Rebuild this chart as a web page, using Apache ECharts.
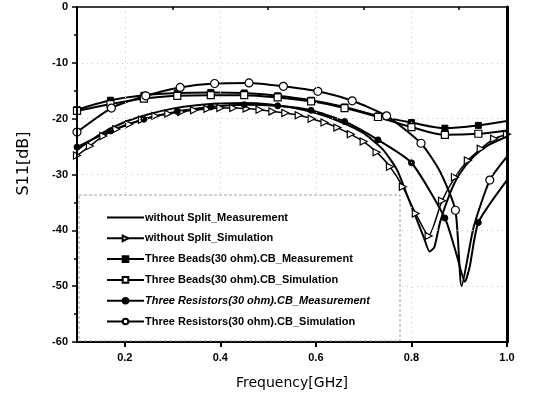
<!DOCTYPE html>
<html>
<head>
<meta charset="utf-8">
<script src="https://cdn.jsdelivr.net/npm/echarts@6/dist/echarts.min.js"></script>
<style>
  html, body { margin: 0; padding: 0; background: #fff; }
  #chart { width: 543px; height: 397px; }
</style>
</head>
<body>
<div id="chart"></div>
<script>
// Series names (legend order)
const names = [
  'without Split_Measurement',
  'without Split_Simulation',
  'Three Beads(30 ohm).CB_Measurement',
  'Three Beads(30 ohm).CB_Simulation',
  'Three Resistors(30 ohm).CB_Measurement',
  'Three Resistors(30 ohm).CB_Simulation'
];

// without Split_Measurement (line only)
const noSplitMeasX = [0.10, 0.15, 0.20, 0.25, 0.30, 0.35, 0.40, 0.45, 0.50, 0.55, 0.60, 0.65, 0.70, 0.74, 0.77, 0.79, 0.81, 0.826, 0.838, 0.848, 0.86, 0.88, 0.90, 0.93, 0.96, 1.00];
const noSplitMeasY = [-25.6, -22.7, -20.6, -19.2, -18.2, -17.6, -17.3, -17.2, -17.4, -18.0, -19.0, -20.5, -22.6, -25.5, -29.2, -33.5, -37.8, -41.3, -43.8, -43.0, -38.5, -33.5, -30.0, -26.8, -24.8, -23.2];

// without Split_Simulation (triangle markers at every point)
const noSplitSimX = [0.100, 0.127, 0.155, 0.182, 0.209, 0.236, 0.264, 0.291, 0.318, 0.345, 0.373, 0.400, 0.427, 0.455, 0.482, 0.509, 0.536, 0.564, 0.591, 0.618, 0.645, 0.673, 0.700, 0.727, 0.755, 0.782, 0.809, 0.836, 0.864, 0.891, 0.918, 0.945, 0.973, 1.000];
const noSplitSimY = [-26.6, -24.9, -23.1, -21.9, -21.0, -20.2, -19.5, -19.1, -18.8, -18.5, -18.25, -18.1, -18.1, -18.2, -18.4, -18.7, -19.0, -19.4, -20.0, -20.7, -21.6, -22.8, -24.1, -26.0, -28.6, -32.2, -37.0, -41.0, -34.7, -30.5, -27.5, -25.4, -23.6, -22.8];

// Three Beads measurement / simulation (square markers, last point unmarked)
const beadsX = [0.10, 0.17, 0.24, 0.31, 0.38, 0.45, 0.52, 0.59, 0.66, 0.73, 0.80, 0.87, 0.94, 1.00];
const beadsMeasY = [-18.4, -16.7, -15.8, -15.4, -15.3, -15.4, -15.9, -16.7, -17.9, -19.5, -20.7, -21.7, -21.2, -20.4];
const beadsSimY  = [-18.6, -17.4, -16.4, -15.9, -15.8, -15.8, -16.2, -16.9, -18.1, -19.7, -21.5, -22.9, -22.7, -22.1];
const beadsMarked = [1, 1, 1, 1, 1, 1, 1, 1, 1, 1, 1, 1, 1, 0];

// Three Resistors measurement (filled circles)
const resMeasX = [0.10, 0.17, 0.24, 0.31, 0.38, 0.45, 0.52, 0.59, 0.66, 0.73, 0.80, 0.87, 0.895, 0.912, 0.922, 0.94, 1.00];
const resMeasY = [-25.1, -22.2, -20.1, -18.7, -17.9, -17.5, -17.7, -18.5, -20.5, -23.8, -27.9, -37.8, -44.5, -49.2, -46.5, -38.6, -31.0];
const resMeasMarked = [1, 1, 1, 1, 1, 1, 1, 1, 1, 1, 1, 1, 0, 0, 0, 1, 0];

// Three Resistors simulation (open circles)
const resSimX = [0.100, 0.172, 0.244, 0.316, 0.388, 0.460, 0.532, 0.604, 0.676, 0.748, 0.820, 0.860, 0.892, 0.905, 0.930, 0.964, 1.000];
const resSimY = [-22.4, -18.1, -15.9, -14.4, -13.7, -13.6, -14.2, -15.1, -16.8, -19.5, -24.4, -29.5, -36.4, -50.0, -39.5, -31.0, -26.8];
const resSimMarked = [1, 1, 1, 1, 1, 1, 1, 1, 1, 1, 1, 0, 1, 0, 0, 1, 0];

// Axis ticks
const xMajorTicks = [0.2, 0.4, 0.6, 0.8, 1.0];
const xMinorTicks = [0.3, 0.5, 0.7, 0.9];

function pairs(xs, ys, marked) {
  return xs.map((x, i) => {
    const item = { value: [x, ys[i]] };
    if (marked && !marked[i]) item.symbol = 'none';
    return item;
  });
}

const lineStyle = { color: '#000', width: 2 };
const openStyle = { color: '#fff', borderColor: '#000', borderWidth: 1.2 };
const fillStyle = { color: '#000', borderColor: '#000', borderWidth: 1 };

const series = [
  {
    name: names[0], type: 'line', data: pairs(noSplitMeasX, noSplitMeasY),
    symbol: 'none', smooth: 0.2, lineStyle, itemStyle: { color: 'rgba(0,0,0,0)', borderWidth: 0 }
  },
  {
    name: names[1], type: 'line', data: pairs(noSplitSimX, noSplitSimY),
    symbol: 'triangle', symbolRotate: -90, symbolSize: 7, smooth: 0.2,
    lineStyle: { color: '#000', width: 1.5 }, itemStyle: openStyle
  },
  {
    name: names[2], type: 'line', data: pairs(beadsX, beadsMeasY, beadsMarked),
    symbol: 'rect', symbolSize: 6, smooth: 0.3, lineStyle, itemStyle: fillStyle
  },
  {
    name: names[3], type: 'line', data: pairs(beadsX, beadsSimY, beadsMarked),
    symbol: 'rect', symbolSize: 7, smooth: 0.3, lineStyle, itemStyle: openStyle
  },
  {
    name: names[4], type: 'line', data: pairs(resMeasX, resMeasY, resMeasMarked),
    symbol: 'circle', symbolSize: 6, smooth: 0.2, lineStyle, itemStyle: fillStyle
  },
  {
    name: names[5], type: 'line', data: pairs(resSimX, resSimY, resSimMarked),
    symbol: 'circle', symbolSize: 8, smooth: 0.2, lineStyle, itemStyle: openStyle
  }
];
series.forEach(s => { s.showAllSymbol = true; s.animation = false; s.z = 2; });

const chart = echarts.init(document.getElementById('chart'), null, { renderer: 'canvas' });

const boldLabel = { color: '#000', fontFamily: 'Liberation Sans, Arial, sans-serif', fontWeight: 'bold', fontSize: 11 };
const titleFont = { color: '#000', fontFamily: 'DejaVu Sans, sans-serif', fontWeight: 'normal' };

chart.setOption({
  animation: false,
  backgroundColor: '#fff',
  grid: { left: 77, right: 36, top: 7, bottom: 55, show: false },
  xAxis: [
    {
      type: 'value', min: 0.1, max: 1.0, interval: 0.1, z: 6,
      name: 'Frequency[GHz]', nameLocation: 'middle', nameGap: 34,
      nameTextStyle: Object.assign({ fontSize: 14 }, titleFont),
      axisLine: { show: true, onZero: false, lineStyle: { color: '#000', width: 2 } },
      axisTick: { show: true, inside: false, length: 5, customValues: xMajorTicks, lineStyle: { color: '#000', width: 2 } },
      axisLabel: Object.assign({ margin: 10, customValues: xMajorTicks, formatter: v => v.toFixed(1) }, boldLabel),
      splitLine: { show: true, lineStyle: { color: '#c8c8c8', type: [1, 4], width: 1 } }
    },
    {
      type: 'value', min: 0.1, max: 1.0, position: 'bottom', z: 6,
      axisLine: { show: false },
      axisTick: { show: true, inside: false, length: 3, customValues: xMinorTicks, lineStyle: { color: '#000', width: 1.5 } },
      axisLabel: { show: false }, splitLine: { show: false }
    },
    {
      type: 'value', min: 0.1, max: 1.0, position: 'top', z: 6,
      axisLine: { show: true, lineStyle: { color: '#000', width: 1.5 } },
      axisTick: { show: false }, axisLabel: { show: false }, splitLine: { show: false }
    }
  ],
  yAxis: [
    {
      type: 'value', min: -60, max: 0, interval: 10, z: 6,
      name: 'S11[dB]', nameLocation: 'middle', nameGap: 45, nameRotate: 90,
      nameTextStyle: Object.assign({ fontSize: 16, padding: [0, 0, 0, 22] }, titleFont),
      axisLine: { show: true, onZero: false, lineStyle: { color: '#000', width: 2 } },
      axisTick: { show: true, inside: false, length: 5, lineStyle: { color: '#000', width: 1.5 } },
      minorTick: { show: true, splitNumber: 2, length: 3, lineStyle: { color: '#000', width: 1.5 } },
      axisLabel: Object.assign({ margin: 9 }, boldLabel),
      splitLine: { show: true, lineStyle: { color: '#c8c8c8', type: [1, 4], width: 1 } }
    },
    {
      type: 'value', min: -60, max: 0, position: 'right', z: 6,
      axisLine: { show: true, onZero: false, lineStyle: { color: '#000', width: 3 } },
      axisTick: { show: false }, axisLabel: { show: false }, splitLine: { show: false }
    }
  ],
  legend: {
    orient: 'vertical', left: 101, top: 207, z: 10,
    itemWidth: 37, itemHeight: 7, itemGap: 9.8,
    data: names,
    formatter: n => n === names[4] ? '{it|' + n + '}' : n,
    textStyle: Object.assign({ padding: [0, 0, 0, -4], rich: { it: Object.assign({ fontStyle: 'italic' }, boldLabel) } }, boldLabel)
  },
  graphic: [{
    type: 'rect', z: 8,
    shape: { x: 79, y: 195, width: 321, height: 146 },
    style: { fill: '#fff', stroke: '#888', lineWidth: 0.8, lineDash: [3, 2] }
  }],
  series
});
</script>
</body>
</html>
